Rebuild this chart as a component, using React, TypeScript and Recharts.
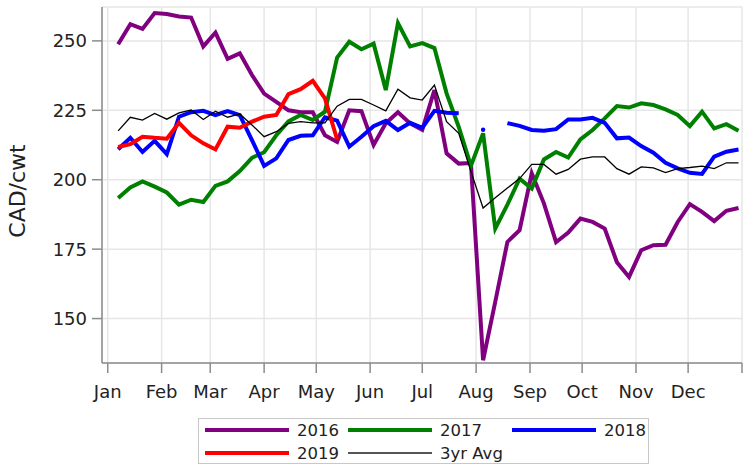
import { CartesianGrid, Legend, Line, LineChart, XAxis, YAxis } from "recharts";

const monthNames = ["Jan", "Feb", "Mar", "Apr", "May", "Jun", "Jul", "Aug", "Sep", "Oct", "Nov", "Dec", ""];
const monthStarts = [0, 31, 59, 90, 120, 151, 181, 212, 243, 273, 304, 334, 365];
const yTicks = [150, 175, 200, 225, 250];

// day of year for each weekly observation
const weekDays = [
  6, 13, 20, 27, 34, 41, 48, 55, 62, 69, 76, 83, 90, 97, 104, 111, 118, 125, 132, 139, 146, 153, 160, 167, 174, 181,
  188, 195, 202, 209, 216, 223, 230, 237, 244, 251, 258, 265, 272, 279, 286, 293, 300, 307, 314, 321, 328, 335, 342,
  349, 356, 363,
];

const price2016 = [
  248.8, 256, 254.3, 260, 259.7, 258.8, 258.4, 248, 253, 243.5, 245.5, 237.7, 231, 228, 225, 224.3, 224.3, 216, 213.6,
  225, 224.7, 212.5, 220.3, 224.3, 220.3, 218, 232.3, 209.5, 205.8, 206, 135, 156, 177.6, 181.8, 202.3, 191.5, 177.5,
  181, 186, 184.8, 182.4, 170.3, 165, 174.6, 176.4, 176.6, 184.8, 191.2, 188.4, 185.1, 188.8, 189.8,
];
const price2017 = [
  193.4, 197.2, 199.4, 197.5, 195.4, 191, 192.8, 192, 197.8, 199.4, 203.1, 207.9, 209.9, 216, 221, 223.3, 221.5, 224.5,
  244, 249.7, 247, 249, 232.3, 256.4, 248, 249.2, 247.4, 231.1, 219, 205, 216.7, 182.4, 191, 200.4, 196.8, 207.3, 210,
  208, 214.5, 217.9, 222.1, 226.5, 226, 227.5, 226.9, 225.3, 223.3, 219.3, 224.5, 218.5, 220, 217.6,
];
const price2018 = [
  211, 215.1, 210, 214, 209.2, 222.7, 224.3, 224.8, 223.3, 224.7, 223.3, 214.3, 205, 207.7, 214.3, 215.8, 216, 222.5,
  221.3, 211.9, 215.5, 219.3, 221.2, 217.9, 220.5, 218.7, 224.8, 224.1, 223.9, null, 218, null, 220.4, 219.4, 217.9,
  217.6, 218.2, 221.7, 221.7, 222.3, 220.5, 214.9, 215.2, 212.1, 209.7, 206.1, 204.1, 202.5, 202.1, 208.3, 210.1, 210.9,
];
const price2019 = [
  211.8, 212.8, 215.5, 215.1, 214.8, 220.5, 216, 213.1, 210.9, 219.1, 218.7, 220.9, 222.7, 223.3, 230.8, 232.6, 235.6,
  229.3, 214.5,
];
const avg3yr = [
  217.6, 222.5, 221.5, 223.9, 221.8, 224.1, 225.1, 221.7, 224.7, 222.5, 223.7, 219.7, 215.5, 217.3, 220.3, 220.9, 220.5,
  220.5, 226.5, 228.9, 228.9, 226.9, 224.8, 232.6, 229.5, 228.7, 234.1, 220.9, 216.7, 203, 189.8, 193.5, 197, 200.4,
  205.5, 205.5, 202, 203.7, 207.4, 208.2, 208.2, 204, 202, 204.6, 204.3, 202.6, 204, 204.4, 204.9, 204, 206.1, 206.1,
];

const series = [
  { key: "y2016", name: "2016", color: "#800080", width: 4, legendColor: "#800080", legendWidth: 3.5 },
  { key: "y2017", name: "2017", color: "#008000", width: 4, legendColor: "#008000", legendWidth: 3.5 },
  { key: "y2018", name: "2018", color: "#0000ff", width: 4, legendColor: "#0000ff", legendWidth: 3.5 },
  { key: "y2019", name: "2019", color: "#ff0000", width: 4, legendColor: "#ff0000", legendWidth: 3.5 },
  { key: "avg", name: "3yr Avg", color: "#000000", width: 1.3, legendColor: "#555555", legendWidth: 2 },
];

const data = weekDays.map((day, i) => ({
  day,
  y2016: price2016[i] ?? null,
  y2017: price2017[i] ?? null,
  y2018: price2018[i] ?? null,
  y2019: price2019[i] ?? null,
  avg: avg3yr[i] ?? null,
}));

const FONT = "'DejaVu Sans', Verdana, sans-serif";
const axisColor = "#8c8c8c";
const monthLabel = (v: number) => monthNames[monthStarts.indexOf(v)] ?? "";

// 2018 has one week standing alone in August; give it a small mark
const renderBlueDot = (p: any) => {
  if (p.index === 30 && p.value != null && p.cy != null) {
    return <circle key={`b${p.index}`} cx={p.cx} cy={p.cy} r={2.2} fill="#0000ff" />;
  }
  return <g key={`b${p.index}`} />;
};

const renderYLabel = () => (
  <text
    x={25}
    y={191}
    transform="rotate(-90 25 191)"
    textAnchor="middle"
    fontSize={22}
    fontFamily={FONT}
    fill="#222"
  >
    CAD/cwt
  </text>
);

const LegendBox = () => {
  const item = (s: (typeof series)[number]) => (
    <div key={s.key} style={{ display: "flex", alignItems: "center", height: 23 }}>
      <span
        style={{ display: "inline-block", width: 84, height: s.legendWidth, background: s.legendColor, marginRight: 8 }}
      />
      <span>{s.name}</span>
    </div>
  );
  return (
    <div
      style={{
        boxSizing: "border-box",
        width: 451,
        height: 46,
        border: "1px solid #c8c8c8",
        padding: "1px 0 0 6px",
        fontFamily: FONT,
        fontSize: 16.5,
        color: "#222",
        display: "grid",
        gridTemplateColumns: "143px 164px auto",
        alignContent: "center",
      }}
    >
      {series.map(item)}
    </div>
  );
};

export default function App() {
  return (
    <div style={{ position: "absolute", left: 0, top: 0, width: 743, height: 465, background: "#fff" }}>
      <LineChart width={743} height={465} data={data} margin={{ top: 7, right: 1, left: 0, bottom: 72 }}>
        <CartesianGrid stroke="#e6e6e6" strokeWidth={1.5} />
        <XAxis
          dataKey="day"
          type="number"
          domain={[-3.3, 365]}
          allowDataOverflow
          ticks={monthStarts}
          interval={0}
          tickFormatter={monthLabel}
          height={30}
          tickSize={10}
          tickMargin={12}
          stroke={axisColor}
          axisLine={{ stroke: axisColor, strokeWidth: 1.5 }}
          tickLine={{ stroke: axisColor, strokeWidth: 1.5 }}
          tick={{ fill: "#222", fontSize: 18, fontFamily: FONT }}
        />
        <XAxis
          xAxisId="top"
          dataKey="day"
          type="number"
          orientation="top"
          domain={[-3.3, 365]}
          allowDataOverflow
          height={0}
          tick={false}
          tickLine={false}
          axisLine={{ stroke: axisColor, strokeWidth: 1.5 }}
        />
        <YAxis
          domain={[134, 262.2]}
          allowDataOverflow
          ticks={yTicks}
          interval={0}
          width={102}
          tickSize={10}
          tickMargin={5}
          axisLine={{ stroke: axisColor, strokeWidth: 1.5 }}
          tickLine={{ stroke: axisColor, strokeWidth: 1.5 }}
          tick={{ fill: "#222", fontSize: 18, fontFamily: FONT }}
          label={renderYLabel}
        />
        <Legend
          layout="horizontal"
          verticalAlign="middle"
          align="center"
          content={<LegendBox />}
          wrapperStyle={{ left: 198, top: 418, width: 451, height: 46 }}
        />
        {series.map((s) => (
          <Line
            key={s.key}
            type="linear"
            dataKey={s.key}
            name={s.name}
            stroke={s.color}
            strokeWidth={s.width}
            strokeLinejoin="miter"
            dot={s.key === "y2018" ? renderBlueDot : false}
            activeDot={false}
            isAnimationActive={false}
          />
        ))}
      </LineChart>
    </div>
  );
}
